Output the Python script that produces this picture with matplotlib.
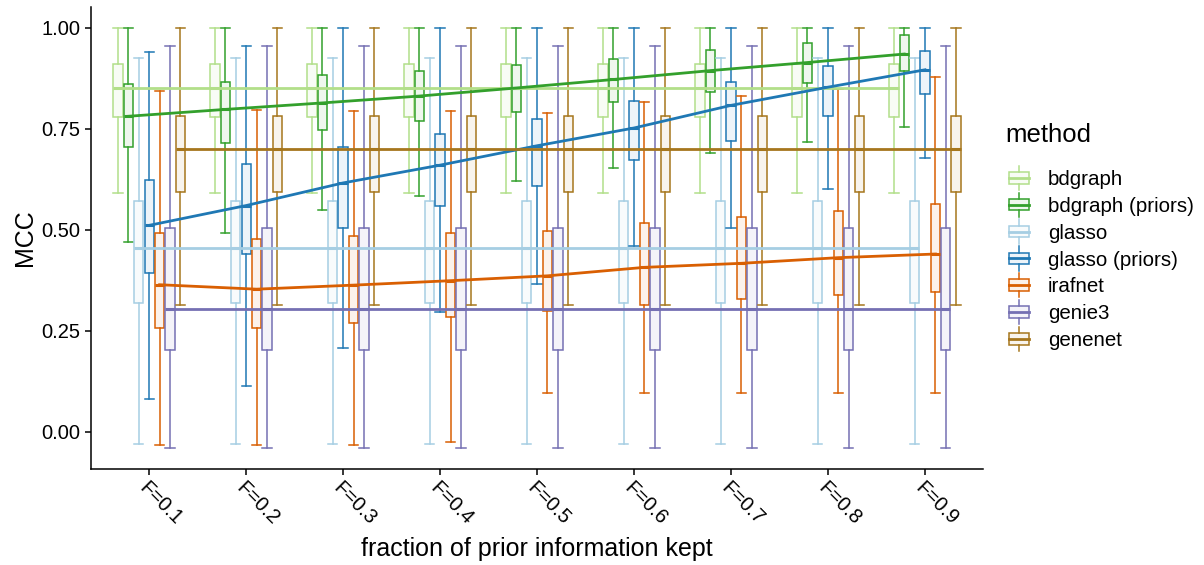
import numpy as np
import matplotlib
matplotlib.use('Agg')
import matplotlib.pyplot as plt
from matplotlib.patches import Rectangle, Patch
from matplotlib.lines import Line2D
from matplotlib.legend_handler import HandlerBase

plt.rcParams['font.family'] = ['Liberation Sans', 'DejaVu Sans']

fractions = ['F=0.1', 'F=0.2', 'F=0.3', 'F=0.4', 'F=0.5', 'F=0.6', 'F=0.7', 'F=0.8', 'F=0.9']
methods = ['bdgraph', 'bdgraph (priors)', 'glasso', 'glasso (priors)', 'irafnet', 'genie3', 'genenet']
colors = ['#B2DF8A', '#33A02C', '#A6CEE3', '#1F78B4', '#D95F02', '#7570B3', '#A6761D']

# each row: lower whisker, q1, median, q3, upper whisker (one row per fraction)
bdgraph = [
    [0.59, 0.78, 0.85, 0.91, 1.00], [0.59, 0.78, 0.85, 0.91, 1.00], [0.59, 0.78, 0.85, 0.91, 1.00],
    [0.59, 0.78, 0.85, 0.91, 1.00], [0.59, 0.78, 0.85, 0.91, 1.00], [0.59, 0.78, 0.85, 0.91, 1.00],
    [0.59, 0.78, 0.85, 0.91, 1.00], [0.59, 0.78, 0.85, 0.91, 1.00], [0.59, 0.78, 0.85, 0.91, 1.00],
]
bdgraph_priors = [
    [0.471, 0.704, 0.781, 0.862, 1.0], [0.493, 0.715, 0.798, 0.866, 1.0], [0.549, 0.748, 0.814, 0.882, 1.0],
    [0.584, 0.769, 0.831, 0.894, 1.0], [0.621, 0.791, 0.851, 0.907, 1.0], [0.652, 0.816, 0.872, 0.923, 1.0],
    [0.689, 0.841, 0.894, 0.944, 1.0], [0.718, 0.863, 0.914, 0.962, 1.0], [0.754, 0.892, 0.935, 0.981, 1.0],
]
glasso = [
    [-0.03, 0.318, 0.456, 0.571, 0.924], [-0.03, 0.318, 0.456, 0.571, 0.924], [-0.03, 0.318, 0.456, 0.571, 0.924],
    [-0.03, 0.318, 0.456, 0.571, 0.924], [-0.03, 0.318, 0.456, 0.571, 0.924], [-0.03, 0.318, 0.456, 0.571, 0.924],
    [-0.03, 0.318, 0.456, 0.571, 0.924], [-0.03, 0.318, 0.456, 0.571, 0.924], [-0.03, 0.318, 0.456, 0.571, 0.924],
]
glasso_priors = [
    [0.080, 0.392, 0.511, 0.622, 0.941], [0.114, 0.440, 0.560, 0.663, 0.954], [0.207, 0.505, 0.616, 0.704, 1.0],
    [0.297, 0.560, 0.660, 0.738, 1.0], [0.365, 0.608, 0.708, 0.774, 1.0], [0.460, 0.672, 0.752, 0.818, 1.0],
    [0.504, 0.721, 0.808, 0.866, 1.0], [0.600, 0.781, 0.853, 0.905, 1.0], [0.677, 0.835, 0.896, 0.942, 1.0],
]
irafnet = [
    [-0.032, 0.258, 0.364, 0.493, 0.843], [-0.032, 0.258, 0.353, 0.477, 0.796], [-0.032, 0.269, 0.363, 0.485, 0.795],
    [-0.026, 0.283, 0.374, 0.493, 0.795], [0.096, 0.300, 0.386, 0.496, 0.789], [0.096, 0.314, 0.407, 0.518, 0.816],
    [0.096, 0.328, 0.417, 0.532, 0.830], [0.096, 0.339, 0.431, 0.547, 0.849], [0.096, 0.345, 0.440, 0.563, 0.877],
]
genie3 = [
    [-0.04, 0.203, 0.304, 0.504, 0.954], [-0.04, 0.203, 0.304, 0.504, 0.954], [-0.04, 0.203, 0.304, 0.504, 0.954],
    [-0.04, 0.203, 0.304, 0.504, 0.954], [-0.04, 0.203, 0.304, 0.504, 0.954], [-0.04, 0.203, 0.304, 0.504, 0.954],
    [-0.04, 0.203, 0.304, 0.504, 0.954], [-0.04, 0.203, 0.304, 0.504, 0.954], [-0.04, 0.203, 0.304, 0.504, 0.954],
]
genenet = [
    [0.314, 0.593, 0.700, 0.781, 1.00], [0.314, 0.593, 0.700, 0.781, 1.00], [0.314, 0.593, 0.700, 0.781, 1.00],
    [0.314, 0.593, 0.700, 0.781, 1.00], [0.314, 0.593, 0.700, 0.781, 1.00], [0.314, 0.593, 0.700, 0.781, 1.00],
    [0.314, 0.593, 0.700, 0.781, 1.00], [0.314, 0.593, 0.700, 0.781, 1.00], [0.314, 0.593, 0.700, 0.781, 1.00],
]
stats = [bdgraph, bdgraph_priors, glasso, glasso_priors, irafnet, genie3, genenet]

fig = plt.figure(figsize=(12.04, 5.65), dpi=100)
ax = fig.add_axes([0.0756, 0.170, 0.741, 0.818])

dodge = 0.75
slot = dodge / len(methods)
bw = slot * 0.9
xs = np.arange(1, len(fractions) + 1)

for m, (data, col) in enumerate(zip(stats, colors)):
    pos = xs - dodge / 2 + slot * (m + 0.5)
    for p, (lo, q1, med, q3, hi) in zip(pos, data):
        ax.plot([p, p], [lo, q1], color=col, lw=1.1, zorder=2)
        ax.plot([p, p], [q3, hi], color=col, lw=1.1, zorder=2)
        ax.plot([p - bw / 2, p + bw / 2], [lo, lo], color=col, lw=1.1, zorder=2)
        ax.plot([p - bw / 2, p + bw / 2], [hi, hi], color=col, lw=1.1, zorder=2)
        ax.add_patch(Rectangle((p - bw / 2, q1), bw, q3 - q1, facecolor=col, alpha=0.08,
                               edgecolor='none', zorder=2))
        ax.add_patch(Rectangle((p - bw / 2, q1), bw, q3 - q1, facecolor='none',
                               edgecolor=col, lw=1.1, zorder=2))
        ax.plot([p - bw / 2, p + bw / 2], [med, med], color=col, lw=2.2, zorder=3,
                solid_capstyle='butt')

for m, (data, col) in enumerate(zip(stats, colors)):
    pos = xs - dodge / 2 + slot * (m + 0.5)
    meds = [row[2] for row in data]
    ax.plot(pos, meds, color=col, lw=2.0, zorder=4)

ax.set_xlim(0.4, 9.6)
ax.set_ylim(-0.092, 1.052)
ax.set_yticks([0.0, 0.25, 0.5, 0.75, 1.0])
ax.set_yticklabels(['0.00', '0.25', '0.50', '0.75', '1.00'])
ax.set_xticks(xs)
ax.set_xticklabels(fractions, rotation=-45, ha='left', va='top', rotation_mode='anchor')
ax.tick_params(axis='both', labelsize=14.5, colors='black', length=4, width=1.1)
ax.tick_params(axis='x', pad=3)
for s in ['top', 'right']:
    ax.spines[s].set_visible(False)
for s in ['left', 'bottom']:
    ax.spines[s].set_linewidth(1.1)
ax.set_xlabel('fraction of prior information kept', fontsize=18, labelpad=6)
ax.set_ylabel('MCC', fontsize=18, labelpad=3)


class BoxHandler(HandlerBase):
    def create_artists(self, legend, orig_handle, xdescent, ydescent, width, height, fontsize, trans):
        col = orig_handle.get_edgecolor()
        x0, y0 = -xdescent, -ydescent
        cx = x0 + width / 2
        b = Rectangle((x0 + 1, y0 + height * 0.1), width - 2, height * 0.8,
                      facecolor=col, alpha=0.08, edgecolor='none', transform=trans)
        e = Rectangle((x0 + 1, y0 + height * 0.1), width - 2, height * 0.8,
                      facecolor='none', edgecolor=col, lw=1.1, transform=trans)
        md = Line2D([x0 + 1, x0 + width - 1], [y0 + height * 0.5] * 2, color=col, lw=2, transform=trans)
        w1 = Line2D([cx, cx], [y0 - height * 0.35, y0 + height * 0.1], color=col, lw=1.1, transform=trans)
        w2 = Line2D([cx, cx], [y0 + height * 0.9, y0 + height * 1.35], color=col, lw=1.1, transform=trans)
        return [b, e, md, w1, w2]


fig.text(1005 / 1204, 1 - 135 / 565, 'method', fontsize=18.5, ha='left', va='center')
handles = [Patch(edgecolor=c, facecolor='none') for c in colors]
fig.legend(handles, methods, handler_map={Patch: BoxHandler()}, loc='upper left',
           bbox_to_anchor=(0.8233, 0.728), frameon=False, fontsize=14.8,
           handlelength=1.1, handleheight=0.7, labelspacing=0.38, handletextpad=0.85,
           borderpad=0.3)

fig.savefig('out.png', dpi=100)
